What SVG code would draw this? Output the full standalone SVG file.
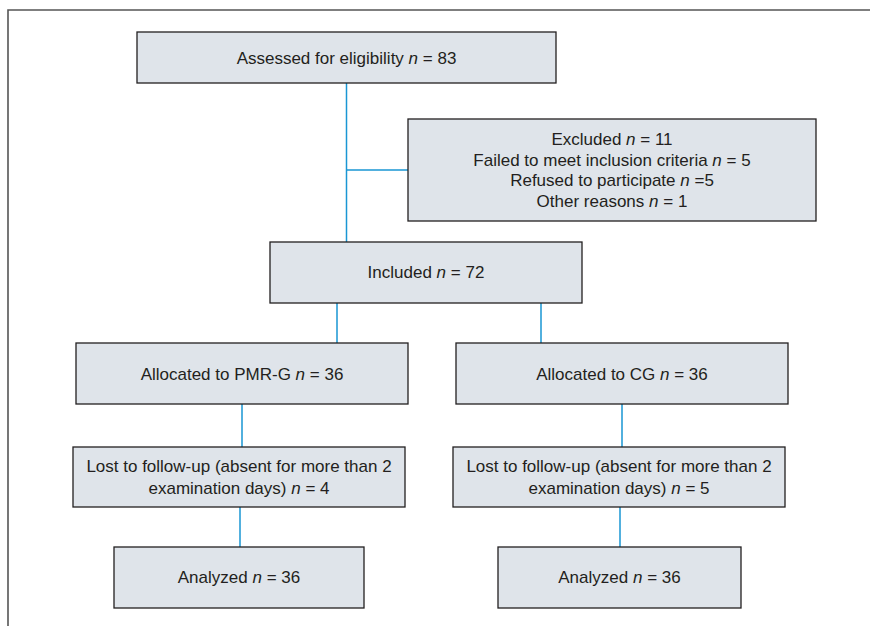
<svg xmlns="http://www.w3.org/2000/svg" width="870" height="626" viewBox="0 0 870 626">
<style>
.box{fill:#dfe4ea;stroke:#231f20;stroke-width:1.3}
.t{font-family:"Liberation Sans",Arial,sans-serif;font-size:17px;fill:#231f20;text-anchor:middle}
.c{stroke:#1a96d4;stroke-width:1.5;fill:none}
</style>
<rect width="870" height="626" fill="#fff"/>
<path d="M8 626V10H870" fill="none" stroke="#555" stroke-width="1.6"/>
<g id="connectors">
<path class="c" d="M346.5 83V242M346.5 170H408"/>
<path class="c" d="M337 303V343M541 303V343"/>
<path class="c" d="M242 404V447M622 404V447"/>
<path class="c" d="M240 507V547M620 507V547"/>
</g>
<g id="assessed"><rect class="box" x="137" y="32" width="419" height="51"/><text class="t" x="346.5" y="63.5">Assessed for eligibility <tspan font-style="italic">n</tspan> = 83</text></g>
<g id="excluded"><rect class="box" x="408" y="119" width="408" height="102"/>
<text class="t" x="612" y="145">Excluded <tspan font-style="italic">n</tspan> = 11</text>
<text class="t" x="612" y="165.5">Failed to meet inclusion criteria <tspan font-style="italic">n</tspan> = 5</text>
<text class="t" x="612" y="186">Refused to participate <tspan font-style="italic">n</tspan> =5</text>
<text class="t" x="612" y="206.5">Other reasons <tspan font-style="italic">n</tspan> = 1</text></g>
<g id="included"><rect class="box" x="270" y="242" width="312" height="61"/><text class="t" x="426" y="278">Included <tspan font-style="italic">n</tspan> = 72</text></g>
<g id="alloc-pmrg"><rect class="box" x="76" y="343" width="332" height="61"/><text class="t" x="242" y="380">Allocated to PMR-G <tspan font-style="italic">n</tspan> = 36</text></g>
<g id="alloc-cg"><rect class="box" x="456" y="343" width="332" height="61"/><text class="t" x="622" y="380">Allocated to CG <tspan font-style="italic">n</tspan> = 36</text></g>
<g id="lost-pmrg"><rect class="box" x="73" y="447" width="332" height="60"/><text class="t" x="239" y="472">Lost to follow-up (absent for more than 2</text><text class="t" x="239" y="494">examination days) <tspan font-style="italic">n</tspan> = 4</text></g>
<g id="lost-cg"><rect class="box" x="453" y="447" width="332" height="60"/><text class="t" x="619" y="472">Lost to follow-up (absent for more than 2</text><text class="t" x="619" y="494">examination days) <tspan font-style="italic">n</tspan> = 5</text></g>
<g id="analyzed-pmrg"><rect class="box" x="114" y="547" width="250" height="61"/><text class="t" x="239" y="583">Analyzed <tspan font-style="italic">n</tspan> = 36</text></g>
<g id="analyzed-cg"><rect class="box" x="498" y="547" width="243" height="61"/><text class="t" x="619.5" y="583">Analyzed <tspan font-style="italic">n</tspan> = 36</text></g>
</svg>
